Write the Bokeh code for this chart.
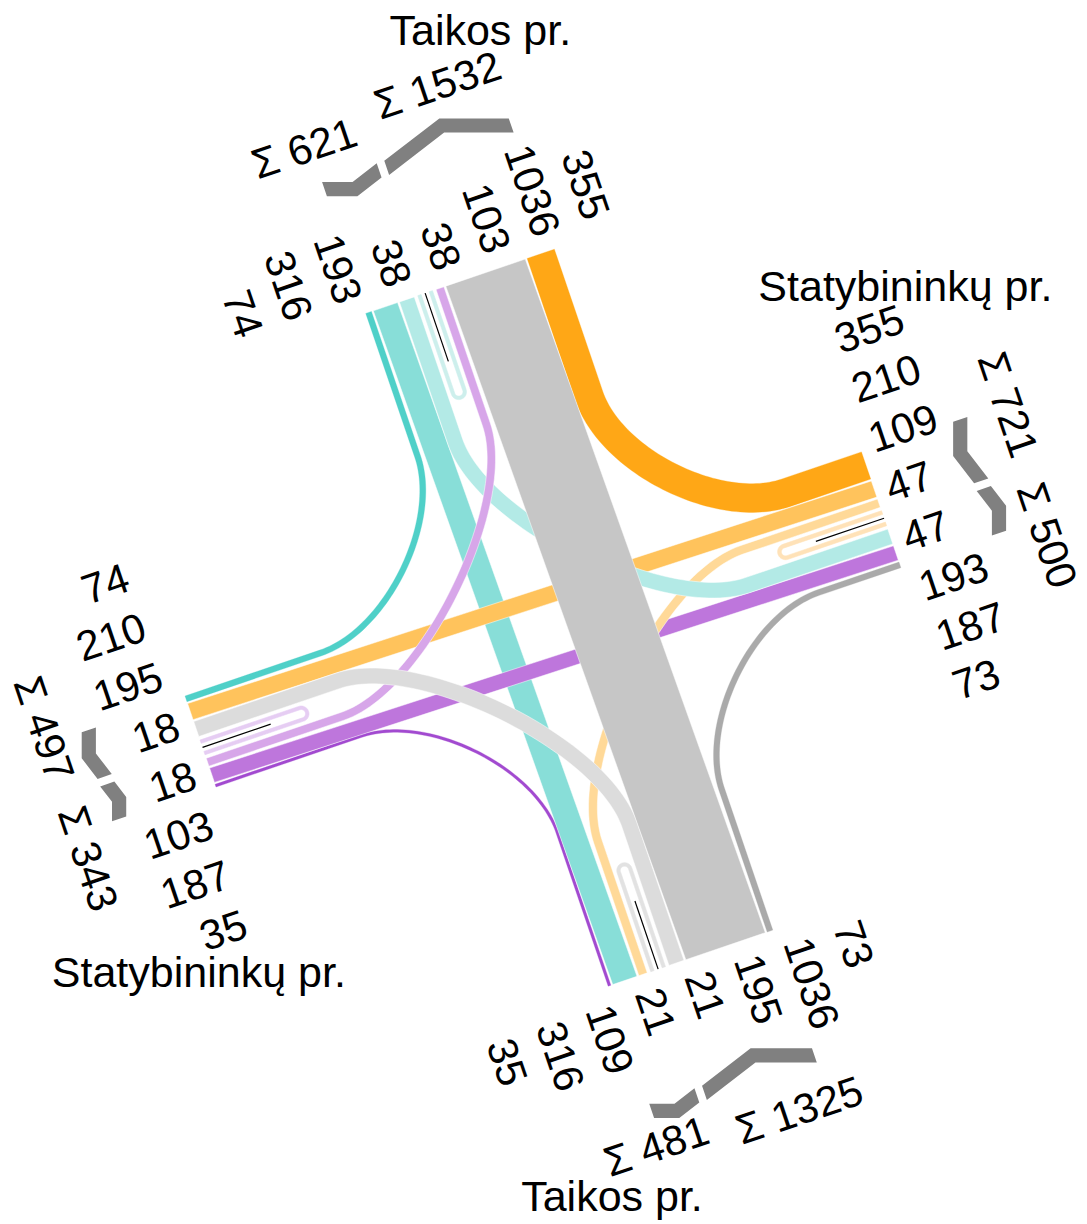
import numpy as np
from bokeh.plotting import figure
from bokeh.models import Range1d
from bokeh.embed import file_html
from bokeh.resources import INLINE
from bokeh.core.properties import value

# ---------------- data ----------------
arm_codes = ["N", "E", "S", "W"]
arm_names = ["Taikos pr.", "Statybininkų pr.", "Taikos pr.", "Statybininkų pr."]

flow_from = ["N", "N", "N", "N", "E", "E", "E", "E", "S", "S", "S", "S", "W", "W", "W", "W"]
flow_to = ["N", "W", "S", "E", "E", "N", "W", "S", "S", "W", "N", "E", "W", "N", "E", "S"]
flow_count = [38, 103, 1036, 355, 47, 193, 187, 73, 21, 35, 316, 109, 18, 74, 210, 195]

# lane order across each arm ("U" = the U-turn pair)
lanes_N = ["W>N", "S>N", "E>N", "U", "N>W", "N>S", "N>E"]
lanes_E = ["N>E", "W>E", "S>E", "U", "E>N", "E>W", "E>S"]
lanes_S = ["S>W", "S>N", "S>E", "U", "W>S", "N>S", "E>S"]
lanes_W = ["W>N", "W>E", "W>S", "U", "N>W", "E>W", "S>W"]
uturn_first_leg = {"N": "in", "E": "in", "S": "out", "W": "out"}

# ---------------- style ----------------
colors = {
    "W>N": "#4FD0C8", "S>N": "#88DED8", "E>N": "#B3EAE6", "N>N": "#CDEFEC",
    "N>E": "#FFA716", "W>E": "#FFC35C", "S>E": "#FFD998", "E>E": "#FFE2B8",
    "N>S": "#C6C6C6", "W>S": "#DCDCDC", "E>S": "#AAAAAA", "S>S": "#E2E2E2",
    "N>W": "#D7A6E9", "E>W": "#BE76DC", "S>W": "#A24AD0", "W>W": "#E6CDF3",
}
FONT = value("Liberation Sans")
NUM_SIZE = "42px"
NAME_SIZE = "43px"

# ---------------- geometry / layout ----------------
W_PX, H_PX = 1087, 1224
TH = np.radians(18.8)
CT, ST = np.cos(TH), np.sin(TH)
CX, CY = 573.0, 610.0
SCALE = 0.081
GAP = 2.0
UBLOCK = 19.0
ULEG = 6.0
U_LEN = 112.0
BLACK_LEN = 72.0
R_NEAR, K_NEAR = 155.0, 0.45
R_FAR, K_FAR = 230.0, 0.37
ARM_END = {"N": 352.0, "E": 325.0, "S": 363.0, "W": 394.0}
OUT = {"N": np.array([0., 1.]), "E": np.array([1., 0.]), "S": np.array([0., -1.]), "W": np.array([-1., 0.])}
LAT = {"N": np.array([1., 0.]), "E": np.array([0., -1.]), "S": np.array([1., 0.]), "W": np.array([0., -1.])}
LABEL_SP = 52.3
LABEL_GAP = {"N": 16.0, "E": 12.0, "S": 16.0, "W": 16.0}
LABEL_OFF = {"N": -33.0, "E": 8.0, "S": -24.0, "W": 3.0}
BRACKET_DIST = {"N": 483.0, "E": 429.0, "S": 495.0, "W": 496.0}
BR_THICK = 15.0
SIGMA_SHIFT = {"N": (35.0, 9.0), "E": (31.0, 41.0), "S": (31.0, 26.0), "W": (40.0, 46.0)}
SIGMA_DIST = {"N": (528.0, 545.0), "E": (479.0, 474.0), "S": (530.0, 542.0), "W": (538.0, 538.0)}
NAME_POS = {"N": (100.0, 583.0), "E": (420.0, 204.0), "S": (-151.0, -563.0), "W": (-470.0, -218.0)}

cnt = {f"{a}>{b}": c for a, b, c in zip(flow_from, flow_to, flow_count)}
lane_lists = {"N": lanes_N, "E": lanes_E, "S": lanes_S, "W": lanes_W}


def rot(v):
    return np.array([v[0] * CT - v[1] * ST, v[0] * ST + v[1] * CT])


def scr(P):
    P = np.atleast_2d(np.asarray(P, dtype=float))
    xs = CX + P[:, 0] * CT - P[:, 1] * ST
    ys = CY + P[:, 0] * ST + P[:, 1] * CT
    return xs, ys


layout = {}
for arm in arm_codes:
    lst = lane_lists[arm]
    widths = [UBLOCK if k == "U" else cnt[k] * SCALE for k in lst]
    total = sum(widths) + GAP * (len(lst) - 1)
    pos = -total / 2
    centers = {}
    for k, w in zip(lst, widths):
        centers[k] = pos + w / 2
        pos += w + GAP
    layout[arm] = dict(centers=centers, total=total)


def bez(P0, P1, P2, P3, n=60):
    t = np.linspace(0, 1, n)[:, None]
    pts = (1 - t) ** 3 * P0 + 3 * (1 - t) ** 2 * t * P1 + 3 * (1 - t) * t ** 2 * P2 + t ** 3 * P3
    der = 3 * (1 - t) ** 2 * (P1 - P0) + 6 * (1 - t) * t * (P2 - P1) + 3 * t ** 2 * (P3 - P2)
    return pts, der


def band(pts, tang, w):
    tn = tang / np.linalg.norm(tang, axis=1)[:, None]
    nrm = np.column_stack([-tn[:, 1], tn[:, 0]])
    left = pts + nrm * w / 2
    right = pts - nrm * w / 2
    return scr(np.vstack([left, right[::-1]]))


def flow_shape(key):
    a, b = key.split(">")
    w = cnt[key] * SCALE
    la = layout[a]["centers"][key]
    lb = layout[b]["centers"][key]
    S0 = OUT[a] * ARM_END[a] + LAT[a] * la
    E0 = OUT[b] * ARM_END[b] + LAT[b] * lb
    d1 = -OUT[a]
    d2 = OUT[b]
    if abs(d1 @ d2) > 0.5:  # straight through
        poly = [S0 + LAT[a] * w / 2, E0 + LAT[b] * w / 2, E0 - LAT[b] * w / 2, S0 - LAT[a] * w / 2]
        return scr(poly)
    K = S0 + ((E0 - S0) @ d1) * d1
    cross = d1[0] * d2[1] - d1[1] * d2[0]
    r, k = (R_NEAR, K_NEAR) if cross > 0 else (R_FAR, K_FAR)
    T1 = K - r * d1
    T2 = K + r * d2
    bp, bd = bez(T1, T1 + k * r * d1, T2 - k * r * d2, T2)
    pts = np.vstack([S0, bp, E0])
    tang = np.vstack([d1, bd, d2])
    return band(pts, tang, w)


def uturn_shape(arm):
    key = f"{arm}>{arm}"
    w = max(cnt[key] * SCALE, 3.5)
    uc = layout[arm]["centers"]["U"]
    if uturn_first_leg[arm] == "out":
        l_out, l_in = uc - ULEG, uc + ULEG
    else:
        l_out, l_in = uc + ULEG, uc - ULEG
    rr = abs(l_in - l_out) / 2
    O, L = OUT[arm], LAT[arm]
    depth = ARM_END[arm] - (U_LEN - rr - w / 2)
    Cc = O * depth + L * uc
    sgn = np.sign(l_out - uc)
    phi = np.linspace(0, np.pi, 40)[:, None]
    arc = Cc + rr * (np.cos(phi) * sgn * L + np.sin(phi) * (-O))
    arct = rr * (-np.sin(phi) * sgn * L + np.cos(phi) * (-O))
    S0 = O * ARM_END[arm] + L * l_out
    E0 = O * ARM_END[arm] + L * l_in
    pts = np.vstack([S0, arc, E0])
    tang = np.vstack([-O, arct, O])
    return band(pts, tang, w), key


# ---------------- figure ----------------
p = figure(width=W_PX, height=H_PX, x_range=Range1d(0, W_PX), y_range=Range1d(1224 - H_PX, 1224),
           output_backend="svg", toolbar_location=None, min_border=0,
           x_axis_location=None, y_axis_location=None)
p.grid.visible = False
p.outline_line_color = None
p.background_fill_color = "white"

near = ["W>N", "S>W", "E>S", "N>E"]
straight = ["S>N", "E>W", "W>E"]
far = ["S>E", "E>N", "N>W", "W>S"]

xs, ys, fc = [], [], []
for key in near:
    x, y = flow_shape(key)
    xs.append(list(x)); ys.append(list(y)); fc.append(colors[key])
p.patches(xs, ys, fill_color=fc, line_color=fc, line_width=0.3)

# U-turns
uxs, uys, ufc = [], [], []
bx, by = [], []
for arm in arm_codes:
    (x, y), key = uturn_shape(arm)
    uxs.append(list(x)); uys.append(list(y)); ufc.append(colors[key])
    uc = layout[arm]["centers"]["U"]
    P0 = OUT[arm] * ARM_END[arm] + LAT[arm] * uc
    P1 = OUT[arm] * (ARM_END[arm] - BLACK_LEN) + LAT[arm] * uc
    sx, sy = scr([P0, P1])
    bx.append(list(sx)); by.append(list(sy))
p.patches(uxs, uys, fill_color=ufc, line_color=ufc, line_width=0.6)
p.multi_line(bx, by, line_color="black", line_width=1.2)

for group in (straight, far, ["N>S"]):
    xs, ys, fc = [], [], []
    for key in group:
        x, y = flow_shape(key)
        xs.append(list(x)); ys.append(list(y)); fc.append(colors[key])
    p.patches(xs, ys, fill_color=fc, line_color="white", line_width=0.5)

# ---------------- labels, brackets, sums ----------------
brx, bry = [], []
for arm, name in zip(arm_codes, arm_names):
    lst = lane_lists[arm]
    ukey = f"{arm}>{arm}"
    vals = []
    for k in lst:
        vals += [cnt[ukey], cnt[ukey]] if k == "U" else [cnt[k]]
    n = len(vals)
    lat_pos = [LABEL_OFF[arm] + (i - (n - 1) / 2) * LABEL_SP for i in range(n)]
    O, L = OUT[arm], LAT[arm]
    d = ARM_END[arm] + LABEL_GAP[arm]
    pts = np.array([O * d + L * lp for lp in lat_pos])
    tx, ty = scr(pts)
    if arm == "N":
        ang, align = TH - np.pi / 2, "right"
    elif arm == "S":
        ang, align = TH - np.pi / 2, "left"
    elif arm == "E":
        ang, align = TH, "left"
    else:
        ang, align = TH, "right"
    p.text(list(tx), list(ty), text=[str(v) for v in vals], angle=ang, text_align=align,
           text_baseline="middle", text_font=FONT, text_font_size=NUM_SIZE, text_color="black")

    # groups
    total = layout[arm]["total"]
    uc = layout[arm]["centers"]["U"]
    iu = lst.index("U")
    g1 = sum(cnt[k] for k in lst[:iu]) + cnt[ukey]
    g2 = sum(cnt[k] for k in lst[iu + 1:]) + cnt[ukey]
    groups = [(-total / 2 + 1, uc - 4, g1), (total / 2 - 1, uc + 4, g2)]
    Os, Ls = rot(O), rot(L)
    A = np.array([1., 0.]) if arm in ("N", "S") else np.array([0., 1.])
    h = BR_THICK / 2
    for gi, (lo, li, gsum) in enumerate(groups):
        dist = BRACKET_DIST[arm]
        Po = np.array([c[0] for c in scr(O * dist + L * lo)])
        Pb = np.array([c[0] for c in scr(O * dist + L * li)])
        lm = (lo + li) / 2
        s = (lm - lo) / (A @ Ls)
        Pm = Po + s * A
        poly = [Po + h * Os, Pm + h * Os, Pb + h * Os, Pb - h * Os, Pm - h * Os, Po - h * Os]
        brx.append([q[0] for q in poly]); bry.append([q[1] for q in poly])
        gc = (lo + li) / 2
        sh = SIGMA_SHIFT[arm][gi]
        lat_s = gc - sh if gi == 0 else gc + sh
        sxp, syp = scr(O * SIGMA_DIST[arm][gi] + L * lat_s)
        sang = TH if arm in ("N", "S") else TH - np.pi / 2
        p.text([sxp[0]], [syp[0]], text=[f"Σ {gsum}"], angle=sang, text_align="center",
               text_baseline="middle", text_font=FONT, text_font_size=NUM_SIZE, text_color="black")

    nx, ny = scr(np.array(NAME_POS[arm]))
    p.text([nx[0]], [ny[0]], text=[name], text_align="center", text_baseline="middle",
           text_font=FONT, text_font_size=NAME_SIZE, text_color="black")

p.patches(brx, bry, fill_color="#808080", line_color=None)

open("out.html", "w").write(file_html(p, INLINE, title="Intersection flows"))
